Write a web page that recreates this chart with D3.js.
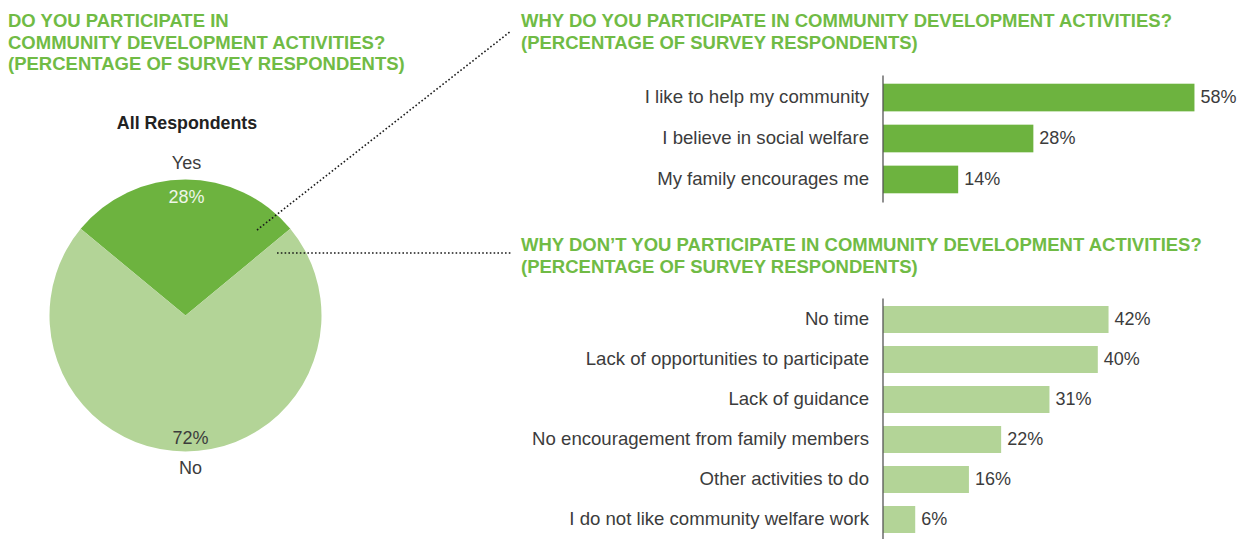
<!DOCTYPE html>
<html>
<head>
<meta charset="utf-8">
<script src="https://cdn.jsdelivr.net/npm/d3@7/dist/d3.min.js"></script>
<style>
  html, body { margin: 0; padding: 0; background: #fff; }
  svg { display: block; font-family: "Liberation Sans", Arial, Helvetica, sans-serif; }
</style>
</head>
<body>
<svg id="chart" width="1252" height="539"></svg>
<script>
// Participation split (all respondents)
const pieCategories = ["Yes", "No"];
const pieValues = [28, 72];

// Reasons for participating
const yesReasons = ["I like to help my community", "I believe in social welfare", "My family encourages me"];
const yesValues = [58, 28, 14];

// Reasons for not participating
const noReasons = [
  "No time",
  "Lack of opportunities to participate",
  "Lack of guidance",
  "No encouragement from family members",
  "Other activities to do",
  "I do not like community welfare work"
];
const noValues = [42, 40, 31, 22, 16, 6];

const titleLeft = ["DO YOU PARTICIPATE IN", "COMMUNITY DEVELOPMENT ACTIVITIES?", "(PERCENTAGE OF SURVEY RESPONDENTS)"];
const titleYes = ["WHY DO YOU PARTICIPATE IN COMMUNITY DEVELOPMENT ACTIVITIES?", "(PERCENTAGE OF SURVEY RESPONDENTS)"];
const titleNo = ["WHY DON\u2019T YOU PARTICIPATE IN COMMUNITY DEVELOPMENT ACTIVITIES?", "(PERCENTAGE OF SURVEY RESPONDENTS)"];

const DARK = "#6db33f";
const LIGHT = "#b3d497";
const TITLE = "#70bb45";
const TEXT = "#3c3c3c";

const svg = d3.select("#chart");

// ---- section titles ----
function title(lines, x, y) {
  const t = svg.append("text")
    .attr("x", x).attr("y", y)
    .attr("fill", TITLE)
    .attr("font-size", 18.5)
    .attr("font-weight", "bold");
  t.selectAll("tspan").data(lines).join("tspan")
    .attr("x", x)
    .attr("dy", (d, i) => i === 0 ? 0 : 21.5)
    .text(d => d);
}
title(titleLeft, 8, 27);
title(titleYes, 521, 27);
title(titleNo, 521, 251);

// ---- pie ----
const cx = 185.5, cy = 315.5, r = 136;
const pieG = svg.append("g").attr("transform", `translate(${cx},${cy})`);
const pie = d3.pie().sort(null)
  .startAngle(-Math.PI * pieValues[0] / 100)
  .endAngle(2 * Math.PI - Math.PI * pieValues[0] / 100);
const arcs = pie(pieValues);
const arc = d3.arc().innerRadius(0).outerRadius(r);
const color = d3.scaleOrdinal().domain(pieCategories).range([DARK, LIGHT]);

pieG.selectAll("path").data(arcs).join("path")
  .attr("d", arc)
  .attr("fill", (d, i) => color(pieCategories[i]));

svg.append("text")
  .attr("x", 187).attr("y", 128.5)
  .attr("text-anchor", "middle")
  .attr("font-size", 17.8).attr("font-weight", "bold")
  .attr("fill", "#222")
  .text("All Respondents");

// Yes labels (above slice) and No labels (below)
svg.append("text").attr("x", 186.5).attr("y", 168.5)
  .attr("text-anchor", "middle").attr("font-size", 18).attr("fill", TEXT)
  .text(pieCategories[0]);
svg.append("text").attr("x", 186.5).attr("y", 202.5)
  .attr("text-anchor", "middle").attr("font-size", 18).attr("fill", "#eef6e8")
  .text(pieValues[0] + "%");
svg.append("text").attr("x", 190.5).attr("y", 443.5)
  .attr("text-anchor", "middle").attr("font-size", 18).attr("fill", TEXT)
  .text(pieValues[1] + "%");
svg.append("text").attr("x", 190.5).attr("y", 474)
  .attr("text-anchor", "middle").attr("font-size", 18).attr("fill", TEXT)
  .text(pieCategories[1]);

// ---- dotted leader lines ----
const leaders = [
  [[257, 230], [511, 31]],
  [[277, 253], [512, 253]]
];
svg.selectAll("line.leader").data(leaders).join("line")
  .attr("class", "leader")
  .attr("x1", d => d[0][0]).attr("y1", d => d[0][1])
  .attr("x2", d => d[1][0]).attr("y2", d => d[1][1])
  .attr("stroke", "#1a1a1a")
  .attr("stroke-width", 1.6)
  .attr("stroke-dasharray", "1.6 2.2");

// ---- horizontal bar charts ----
const x = d3.scaleLinear().domain([0, 100]).range([883, 1420]);

function barChart(cats, vals, y0, y1, outer, fill) {
  const y = d3.scaleBand().domain(cats).range([y0, y1])
    .paddingInner(0.325).paddingOuter(outer);
  const g = svg.append("g");
  g.selectAll("rect").data(vals).join("rect")
    .attr("x", x(0))
    .attr("y", (d, i) => y(cats[i]))
    .attr("width", d => x(d) - x(0))
    .attr("height", y.bandwidth())
    .attr("fill", fill);
  g.selectAll("text.val").data(vals).join("text")
    .attr("class", "val")
    .attr("x", d => x(d) + 6)
    .attr("y", (d, i) => y(cats[i]) + y.bandwidth() / 2 - 1)
    .attr("dy", "0.35em")
    .attr("font-size", 18)
    .attr("fill", TEXT)
    .text(d => d + "%");

  const axis = svg.append("g")
    .attr("transform", `translate(${x(0) - 0.5},0)`)
    .call(d3.axisLeft(y).tickSize(0).tickPadding(13.5).tickSizeOuter(0));
  axis.select(".domain").attr("stroke", "#555").attr("stroke-width", 1.3);
  axis.selectAll(".tick text")
    .attr("font-size", 18.6)
    .attr("font-family", "\"Liberation Sans\", Arial, sans-serif")
    .attr("fill", TEXT);
}

barChart(yesReasons, yesValues, 75, 202, 0.2125, DARK);
barChart(noReasons, noValues, 298, 541, 0.2, LIGHT);
</script>
</body>
</html>
